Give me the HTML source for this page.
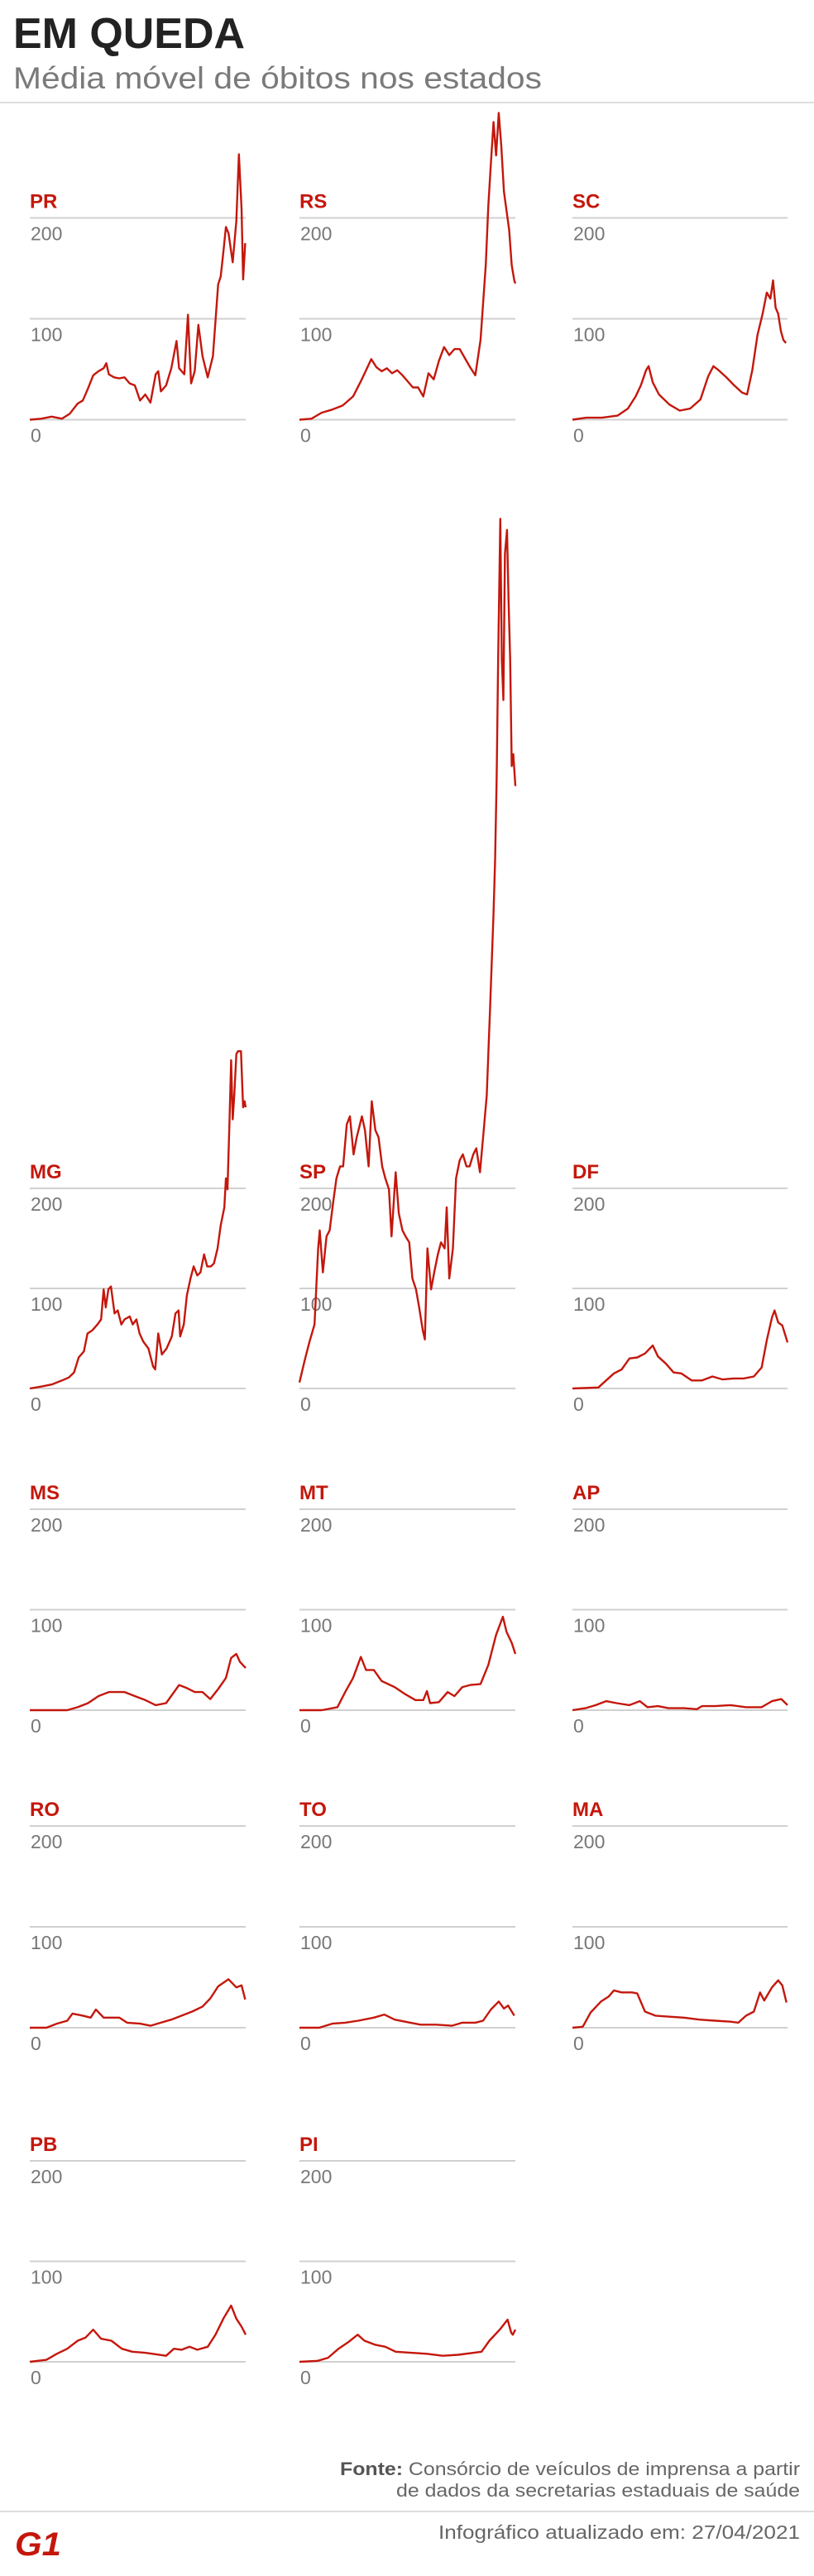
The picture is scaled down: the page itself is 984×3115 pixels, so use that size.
<!DOCTYPE html>
<html><head><meta charset="utf-8"><title>Em queda</title>
<style>
html,body{margin:0;padding:0;background:#fff;}
svg{display:block;}
</style></head>
<body>
<svg id="page" width="984" height="3115" viewBox="0 0 984 3115" xmlns="http://www.w3.org/2000/svg" font-family="'Liberation Sans', sans-serif">
  <rect width="984" height="3115" fill="#fff"/>
  <text x="16" y="58" font-size="52" font-weight="bold" fill="#222" textLength="280" lengthAdjust="spacingAndGlyphs">EM QUEDA</text>
  <text x="16" y="107" font-size="37" fill="#7a7a7a" textLength="639" lengthAdjust="spacingAndGlyphs">Média móvel de óbitos nos estados</text>
  <rect x="0" y="123" width="984" height="2" fill="#ddd"/>
  <g id="charts"></g>
  <text x="967" y="2993" font-size="22" fill="#666" text-anchor="end" textLength="556" lengthAdjust="spacingAndGlyphs"><tspan font-weight="bold" fill="#555">Fonte:</tspan> Consórcio de veículos de imprensa a partir</text>
  <text x="967" y="3019" font-size="22" fill="#666" text-anchor="end" textLength="488" lengthAdjust="spacingAndGlyphs">de dados da secretarias estaduais de saúde</text>
  <rect x="0" y="3036" width="984" height="2" fill="#ddd"/>
  <g>
    <text x="18" y="3090" font-size="40" font-weight="bold" fill="#c4170c" font-style="italic" textLength="56" lengthAdjust="spacingAndGlyphs">G1</text>
  </g>
  <text x="967" y="3070" font-size="23" fill="#666" text-anchor="end" textLength="437" lengthAdjust="spacingAndGlyphs">Infográfico atualizado em: 27/04/2021</text>
</svg>
<script>
// ---- data: days since start of series, 7-day moving average of deaths ----
const states = ["PR","RS","SC","MG","SP","DF","MS","MT","AP","RO","TO","MA","PB","PI"];
const yTicks = [0,100,200];
const dayDomain = [0,415];

const days_PR = [0,22,42,62,77,92,102,112,122,132,142,147,152,162,172,182,192,202,212,222,232,242,247,252,262,272,282,287,297,304,310,317,324,332,342,352,362,367,372,377,382,390,397,402,407,410,414];
const deaths_PR = [0,1,3,1,6,16,19,31,44,48,51,56,45,42,41,42,36,34,19,25,17,45,48,28,34,51,78,51,45,104,36,48,94,63,42,63,134,142,166,191,185,156,197,263,209,139,175];

const days_RS = [0,23,43,63,83,103,118,128,138,148,158,168,178,188,198,208,218,228,238,248,258,268,278,288,298,308,318,328,338,348,358,363,368,373,378,383,388,393,403,408,413,415];
const deaths_RS = [0,1,7,10,14,23,38,49,60,52,48,51,46,49,44,38,32,32,23,46,40,58,72,64,70,70,61,52,44,79,153,212,254,295,262,304,271,226,188,153,138,135];

const days_SC = [0,27,57,87,107,122,132,142,147,155,167,187,207,227,247,262,272,282,297,312,327,337,347,357,367,375,382,387,392,397,402,407,412];
const deaths_SC = [0,2,2,4,11,23,34,49,53,37,25,15,9,11,20,43,53,49,42,34,27,25,49,84,105,126,120,138,111,105,88,79,76];

const days_MG = [0,23,42,62,75,85,94,104,111,120,130,137,142,146,151,156,163,169,176,182,192,198,205,211,218,228,237,241,247,254,263,273,280,286,289,296,302,309,315,322,328,335,341,348,354,361,367,374,377,380,384,387,390,393,397,400,406,410,413,415];
const deaths_MG = [0,2,4,8,11,16,31,37,55,58,64,69,99,81,99,102,75,78,64,69,72,64,69,55,47,40,22,19,55,34,40,52,75,78,52,64,93,110,122,113,116,134,122,122,125,140,163,181,210,199,269,328,269,293,334,337,337,281,287,281];

const days_SP = [0,10,19,29,36,39,45,52,58,65,71,78,84,91,97,104,110,120,126,133,139,146,152,159,165,172,177,185,191,198,204,211,217,224,230,237,241,246,253,259,266,272,279,283,288,295,301,308,314,321,327,334,340,347,353,360,366,373,376,379,382,386,389,392,395,399,402,405,408,411,415];
const deaths_SP = [6,28,46,64,140,158,116,152,158,187,210,222,222,264,272,234,251,272,258,222,287,258,251,222,210,199,152,216,175,158,152,146,110,99,81,58,49,140,99,116,134,146,140,181,110,140,210,228,234,222,222,234,240,216,251,293,375,475,528,611,729,869,729,688,834,858,787,729,622,634,602];

const days_DF = [0,50,65,80,95,110,125,140,155,165,180,195,210,230,250,270,290,310,330,350,365,375,385,390,397,405,415];
const deaths_DF = [0,1,8,15,19,30,31,35,43,32,25,16,15,8,8,12,9,10,10,12,21,48,71,78,66,63,46];

const days_MS = [0,72,92,112,132,152,182,202,222,242,262,287,302,317,332,347,362,377,387,397,404,415];
const deaths_MS = [0,0,3,7,14,18,18,14,10,5,7,25,22,18,18,11,21,32,52,56,48,42];

const days_MT = [0,43,73,88,103,118,128,143,158,183,203,223,238,245,251,268,285,298,313,328,348,363,378,391,398,408,415];
const deaths_MT = [0,0,3,18,32,53,40,40,29,23,16,10,10,19,7,8,18,14,23,25,26,45,75,93,78,67,56];

const days_AP = [0,25,45,65,85,110,130,145,165,185,215,240,250,275,305,335,365,385,403,415];
const deaths_AP = [0,2,5,9,7,5,9,3,4,2,2,1,4,4,5,3,3,9,11,5];

const days_RO = [0,32,52,72,82,102,117,127,142,157,172,187,212,232,252,272,292,312,332,347,362,382,397,407,414];
const deaths_RO = [0,0,4,7,14,12,10,18,10,10,10,5,4,2,5,8,12,16,21,29,41,48,40,42,28];

const days_TO = [0,38,63,88,113,143,163,183,213,233,263,293,313,338,353,368,383,393,401,413];
const deaths_TO = [0,0,4,5,7,10,13,8,5,3,3,2,5,5,7,18,26,19,22,12];

const days_MA = [0,20,35,55,70,80,95,115,125,140,160,185,215,245,275,305,320,335,350,362,370,385,397,405,413];
const deaths_MA = [0,1,15,26,31,37,35,35,34,16,12,11,10,8,7,6,5,12,16,35,27,40,47,42,25];

const days_PB = [0,32,52,72,92,107,122,137,157,177,197,222,262,277,292,307,322,342,357,372,387,397,407,415];
const deaths_PB = [0,2,8,13,21,24,32,23,21,13,10,9,6,13,12,15,12,15,27,43,56,43,35,27];

const days_PI = [0,35,55,75,95,112,125,145,165,185,215,245,275,305,335,350,365,385,400,407,410,415];
const deaths_PI = [0,1,4,13,20,27,21,17,15,10,9,8,6,7,9,10,21,32,42,29,27,32];

// ---- layout (not data) ----
const colX = [[36,297],[362,623],[692,952]];
const rowZero = [507.5,1679,2068,2452,2856];
const rowPx100 = [122,121,121.5,122,121.5];
const dataSets = {
  PR:[days_PR,deaths_PR], RS:[days_RS,deaths_RS], SC:[days_SC,deaths_SC],
  MG:[days_MG,deaths_MG], SP:[days_SP,deaths_SP], DF:[days_DF,deaths_DF],
  MS:[days_MS,deaths_MS], MT:[days_MT,deaths_MT], AP:[days_AP,deaths_AP],
  RO:[days_RO,deaths_RO], TO:[days_TO,deaths_TO], MA:[days_MA,deaths_MA],
  PB:[days_PB,deaths_PB], PI:[days_PI,deaths_PI]
};
const NS = "http://www.w3.org/2000/svg";
const root = document.getElementById("charts");

function mk(tag, attrs){
  const e = document.createElementNS(NS, tag);
  for (const k in attrs) e.setAttribute(k, attrs[k]);
  return e;
}

states.forEach((st, i) => {
  const r = Math.floor(i/3), c = i%3;
  const [x0,x1] = colX[c];
  const zero = rowZero[r], px = rowPx100[r];
  const xScale = d => x0 + (d - dayDomain[0])/(dayDomain[1]-dayDomain[0])*(x1-x0);
  const yScale = v => zero - v/100*px;
  const g = mk("g", {});
  
  
  root.appendChild(g);

  yTicks.forEach(t => {
    const y = yScale(t);
    const ln = mk("rect", {x:x0, y:y-1, width:x1-x0, height:2, fill:"#d0d0d0"});
    
    
    g.appendChild(ln);
    const tx = mk("text", {x:x0+1, y:y+27, "font-size":23, fill:"#777"});
    
    
    tx.textContent = String(t);
    g.appendChild(tx);
  });

  const lab = mk("text", {x:x0, y:yScale(200)-12, "font-size":24, "font-weight":"bold", fill:"#c4170c"});
  
  
  lab.textContent = st;
  g.appendChild(lab);

  const [ds, vs] = dataSets[st];
  let d = "";
  ds.forEach((day, k) => {
    d += (k ? "L" : "M") + xScale(day).toFixed(1) + " " + yScale(vs[k]).toFixed(1);
  });
  const path = mk("path", {d:d, fill:"none", stroke:"#c4170c", "stroke-width":2.4, "stroke-linejoin":"round"});
  
  
  g.appendChild(path);
});
</script>
</body></html>
